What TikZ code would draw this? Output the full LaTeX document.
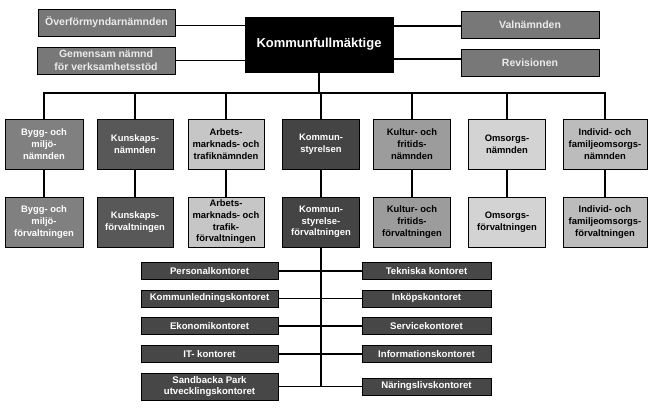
\documentclass[tikz,border=0pt]{standalone}
\usepackage{fontspec}
\setmainfont{Liberation Sans}
\definecolor{topgray}{HTML}{787878}
\definecolor{cA}{HTML}{808080}
\definecolor{cB}{HTML}{585858}
\definecolor{cC}{HTML}{C6C6C6}
\definecolor{cD}{HTML}{444444}
\definecolor{cE}{HTML}{9C9C9C}
\definecolor{cF}{HTML}{D3D3D3}
\definecolor{cG}{HTML}{BCBCBC}
\definecolor{office}{HTML}{474747}
\begin{document}
\begin{tikzpicture}[x=1pt,y=-1pt,
  box/.style={draw=black, line width=0.8pt, align=center, inner sep=1pt,
    font=\bfseries\fontsize{9.4}{11.7}\selectfont},
  topbox/.style={box, fill=topgray, text=white!92!black, minimum width=138pt, minimum height=27pt,
    font=\bfseries\fontsize{10.5}{12.5}\selectfont},
  rowbox/.style={box, minimum width=77pt, minimum height=50pt},
  offbox/.style={box, fill=office, text=white, minimum height=17pt,
    font=\bfseries\fontsize{9.6}{11.5}\selectfont},
  conn/.style={draw=black, line width=1.7pt}]
\useasboundingbox[fill=white] (0,0) rectangle (650,411);

% top
\node[box, fill=black, text=white, minimum width=148pt, minimum height=55pt,
  font=\bfseries\fontsize{13}{15}\selectfont] (kf) at (319,44.5) {Kommunfullmäktige};
\node[topbox, minimum width=137pt] (over) at (106.5,22.5) {Överförmyndarnämnden};
\node[topbox] (gem) at (106,60.5) {Gemensam nämnd\\för verksamhetsstöd};
\node[topbox] (val) at (530,24.5) {Valnämnden};
\node[topbox] (rev) at (530,62.5) {Revisionen};

\draw[conn] ([yshift=-3pt]over.east) -- ([yshift=-3pt]over.east -| kf.west);
\draw[conn] (gem.east) -- (gem.east -| kf.west);
\draw[conn] ([yshift=-1.5pt]val.west) -- ([yshift=-1.5pt]val.west -| kf.east);
\draw[conn] ([yshift=3.5pt]rev.west) -- ([yshift=3.5pt]rev.west -| kf.east);

% row 1
\node[rowbox, fill=cA, text=white, minimum width=78pt] (b1) at (44,144) {Bygg- och\\miljö-\\nämnden};
\node[rowbox, fill=cB, text=white, minimum width=76pt] (b2) at (135,144) {Kunskaps-\\nämnden};
\node[rowbox, fill=cC, text=black, minimum width=76pt] (b3) at (226,144) {Arbets-\\marknads- och\\trafiknämnden};
\node[rowbox, fill=cD, text=white] (b4) at (321,144) {Kommun-\\styrelsen};
\node[rowbox, fill=cE, text=black] (b5) at (412,144) {Kultur- och\\fritids-\\nämnden};
\node[rowbox, fill=cF, text=black] (b6) at (507,144) {Omsorgs-\\nämnden};
\node[rowbox, fill=cG, text=black, minimum width=84pt] (b7) at (605,144) {Individ- och\\familjeomsorgs-\\nämnden};

% row 2
\node[rowbox, fill=cA, text=white, minimum width=78pt] (f1) at (44,222) {Bygg- och\\miljö-\\förvaltningen};
\node[rowbox, fill=cB, text=white, minimum width=76pt] (f2) at (135,222) {Kunskaps-\\förvaltningen};
\node[rowbox, fill=cC, text=black, minimum width=76pt] (f3) at (226,222) {Arbets-\\marknads- och\\trafik-\\förvaltningen};
\node[rowbox, fill=cD, text=white] (f4) at (321,222) {Kommun-\\styrelse-\\förvaltningen};
\node[rowbox, fill=cE, text=black] (f5) at (412,222) {Kultur- och\\fritids-\\förvaltningen};
\node[rowbox, fill=cF, text=black] (f6) at (507,222) {Omsorgs-\\förvaltningen};
\node[rowbox, fill=cG, text=black, minimum width=84pt] (f7) at (605,222) {Individ- och\\familjeomsorgs-\\förvaltningen};

% bus
\coordinate (bus) at (320,93);
\draw[conn] (kf.south) -- (kf.south |- bus);
\draw[conn] (b1.north) -- (b1.north |- bus) -- (b7.north |- bus) -- (b7.north);
\foreach \i in {2,...,6} {\draw[conn] (b\i.north) -- (b\i.north |- bus);}
\foreach \i in {1,...,7} {\draw[conn] (b\i.south) -- (f\i.north);}

% offices
\node[offbox, minimum width=137pt] (l1) at (209.5,271) {Personalkontoret};
\node[offbox, minimum width=137pt] (l2) at (209.5,298.5) {Kommunledningskontoret};
\node[offbox, minimum width=137pt] (l3) at (209.5,326) {Ekonomikontoret};
\node[offbox, minimum width=137pt] (l4) at (209.5,354) {IT- kontoret};
\node[offbox, minimum width=137pt, minimum height=27pt] (l5) at (209.5,386.5) {Sandbacka Park\\utvecklingskontoret};
\node[offbox, minimum width=129pt] (r1) at (426.5,271) {Tekniska kontoret};
\node[offbox, minimum width=129pt] (r2) at (426.5,298.5) {Inköpskontoret};
\node[offbox, minimum width=129pt] (r3) at (426.5,326) {Servicekontoret};
\node[offbox, minimum width=129pt] (r4) at (426.5,354) {Informationskontoret};
\node[offbox, minimum width=129pt] (r5) at (426.5,386.5) {Näringslivskontoret};

\draw[conn] (f4.south) -- (f4.south |- l5.east);
\foreach \i in {1,...,5} {\draw[conn] (l\i.east) -- (r\i.west);}
\end{tikzpicture}
\end{document}
